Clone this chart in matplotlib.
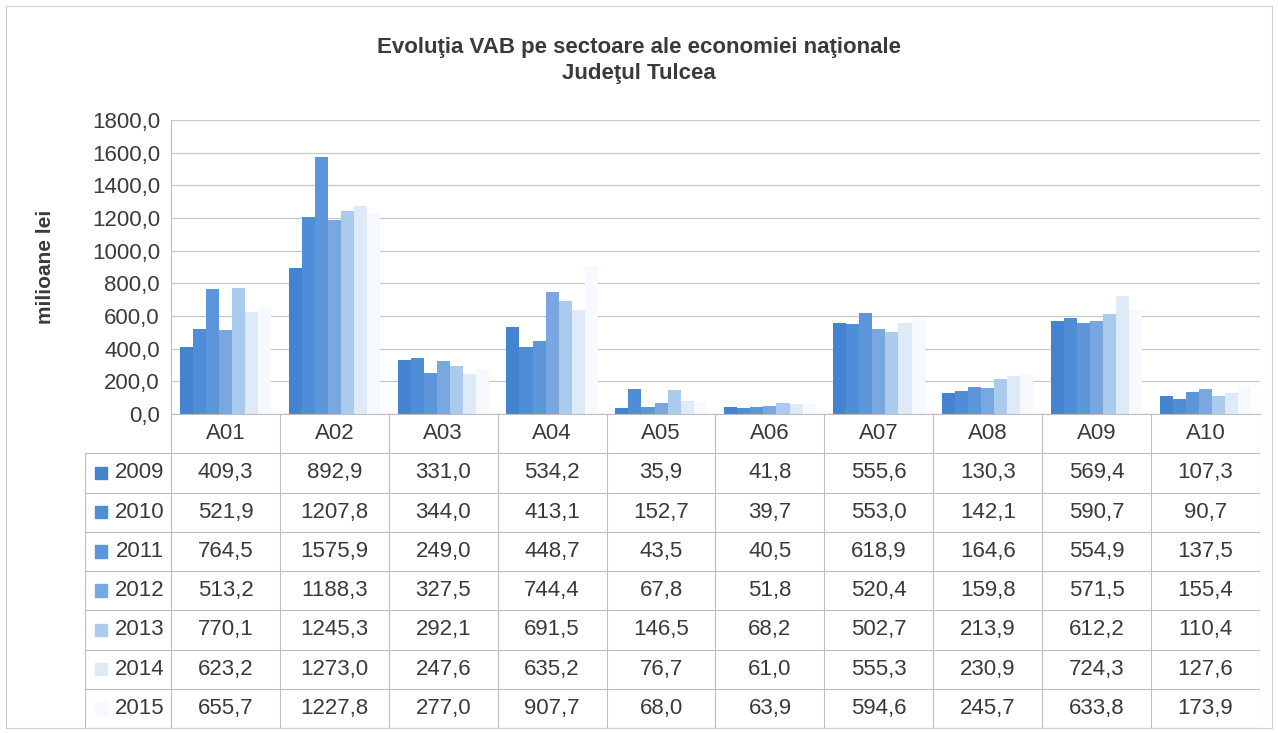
import matplotlib.pyplot as plt
from matplotlib.patches import Rectangle
import numpy as np

sectors = ['A01', 'A02', 'A03', 'A04', 'A05', 'A06', 'A07', 'A08', 'A09', 'A10']
years = ['2009', '2010', '2011', '2012', '2013', '2014', '2015']
v2009 = [409.3, 892.9, 331.0, 534.2, 35.9, 41.8, 555.6, 130.3, 569.4, 107.3]
v2010 = [521.9, 1207.8, 344.0, 413.1, 152.7, 39.7, 553.0, 142.1, 590.7, 90.7]
v2011 = [764.5, 1575.9, 249.0, 448.7, 43.5, 40.5, 618.9, 164.6, 554.9, 137.5]
v2012 = [513.2, 1188.3, 327.5, 744.4, 67.8, 51.8, 520.4, 159.8, 571.5, 155.4]
v2013 = [770.1, 1245.3, 292.1, 691.5, 146.5, 68.2, 502.7, 213.9, 612.2, 110.4]
v2014 = [623.2, 1273.0, 247.6, 635.2, 76.7, 61.0, 555.3, 230.9, 724.3, 127.6]
v2015 = [655.7, 1227.8, 277.0, 907.7, 68.0, 63.9, 594.6, 245.7, 633.8, 173.9]
series = [v2009, v2010, v2011, v2012, v2013, v2014, v2015]
colors = ['#4483cf', '#4f8dd6', '#5c95da', '#78a8df', '#aacaee', '#dfeaf8', '#f6f9fd']

plt.rcParams['font.family'] = ['Liberation Sans Narrow', 'Liberation Sans', 'DejaVu Sans']
txt = '#3a3a3a'
line_c = '#bdbdbd'
fs = 16

W, H = 1278, 733
fig = plt.figure(figsize=(W / 100, H / 100), dpi=100)
fig.patches.append(Rectangle((6 / W, 1 - 728 / H), 1266 / W, 722 / H, transform=fig.transFigure,
                             fill=False, edgecolor='#cfcfcf', lw=0.8))

# chart area
ax = fig.add_axes([171 / W, 1 - 414 / H, (1260 - 171) / W, (414 - 120) / H])
x = np.arange(len(sectors))
bw = 0.12
for i, (vals, c) in enumerate(zip(series, colors)):
    ax.bar(x + (i - 3) * bw, vals, width=bw, color=c, zorder=2, label=years[i])
ax.set_xlim(-0.5, len(sectors) - 0.5)
ax.set_ylim(0, 1800)
ax.set_yticks(np.arange(0, 1801, 200))
ax.set_yticklabels([f'{t:.1f}'.replace('.', ',') for t in np.arange(0, 1801, 200)])
ax.tick_params(axis='y', length=0, labelsize=fs, labelcolor=txt, pad=8)
ax.set_xticks([])
ax.grid(axis='y', color='#c8c8c8', lw=0.9, zorder=0)
for s in ['top', 'right']:
    ax.spines[s].set_visible(False)
ax.spines['left'].set_color(line_c)
ax.spines['bottom'].set_color(line_c)
ax.set_ylabel('milioane lei', fontsize=15, fontweight='bold', color=txt)
ax.yaxis.set_label_coords(-(171 - 55) / (1260 - 171), 0.5)

fig.text(0.5, 1 - 47 / H, 'Evoluţia VAB pe sectoare ale economiei naţionale', ha='center', va='center',
         fontsize=16, fontweight='bold', color=txt)
fig.text(0.5, 1 - 73 / H, 'Judeţul Tulcea', ha='center', va='center',
         fontsize=16, fontweight='bold', color=txt)

# data table
lab_w = (171 - 85) / ((1260 - 171) / len(sectors))
tx = fig.add_axes([85 / W, 1 - 728 / H, (1260 - 85) / W, (728 - 414) / H])
tx.set_xlim(-0.5 - lab_w, len(sectors) - 0.5)
tx.set_ylim(len(years) + 1, 0)
tx.axis('off')
left = -0.5 - lab_w
right = len(sectors) - 0.5
nrow = len(years) + 1
for r in range(1, nrow + 1):
    tx.plot([left, right], [r, r], color=line_c, lw=0.8)
for k in range(len(sectors) + 1):
    tx.plot([k - 0.5, k - 0.5], [0, nrow], color=line_c, lw=0.8)
tx.plot([left, left], [1, nrow], color=line_c, lw=0.8)

for j, s in enumerate(sectors):
    tx.text(j, 0.5, s, ha='center', va='center', fontsize=fs, color=txt)
for i, (vals, c) in enumerate(zip(series, colors)):
    yc = i + 1.5
    tx.add_patch(Rectangle((left + 0.09, yc - 0.16), 0.11, 0.32, color=c))
    tx.text(-0.56, yc, years[i], ha='right', va='center', fontsize=fs, color=txt)
    for j, v in enumerate(vals):
        tx.text(j, yc, f'{v:.1f}'.replace('.', ','), ha='center', va='center', fontsize=fs, color=txt)

fig.savefig('out.png', dpi=100)
